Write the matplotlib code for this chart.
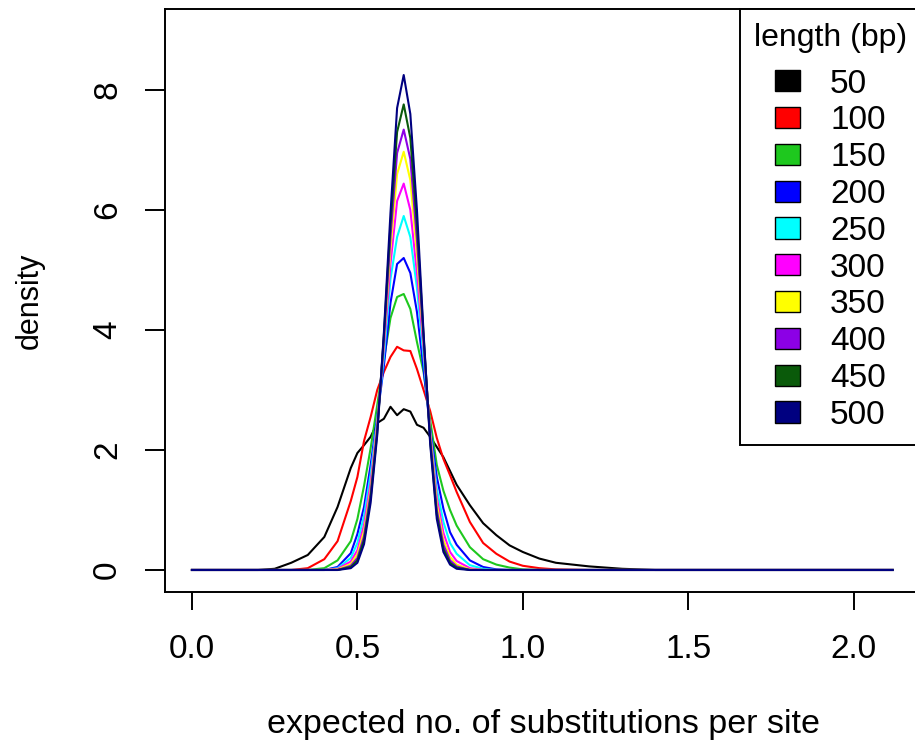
import matplotlib
matplotlib.use('Agg')
import matplotlib.pyplot as plt
from matplotlib.patches import Patch

plt.rcParams['font.family'] = ['Liberation Sans', 'DejaVu Sans']

# substitutions per site (shared grid for all curves)
x = [0.0, 0.2, 0.25, 0.3, 0.35, 0.4, 0.44, 0.48, 0.5, 0.52, 0.54, 0.56, 0.58, 0.6,
     0.62, 0.64, 0.66, 0.68, 0.7, 0.72, 0.74, 0.76, 0.78, 0.8, 0.84, 0.88, 0.92,
     0.96, 1.0, 1.05, 1.1, 1.2, 1.3, 1.4, 2.118]

lengths = [50, 100, 150, 200, 250, 300, 350, 400, 450, 500]
colors = ['black', '#FF0000', '#1EC81E', '#0000FF', '#00FFFF', '#FF00FF',
          '#FFFF00', '#8C00E6', '#0A5A0A', '#000080']

d50 = [0, 0, 0.02, 0.12, 0.25, 0.55, 1.05, 1.70, 1.95, 2.08, 2.22, 2.45, 2.52, 2.72,
       2.58, 2.68, 2.64, 2.42, 2.37, 2.22, 2.05, 1.88, 1.65, 1.42, 1.08, 0.78, 0.58,
       0.41, 0.30, 0.19, 0.12, 0.06, 0.02, 0, 0]
d100 = [0, 0, 0, 0, 0.03, 0.18, 0.48, 1.15, 1.55, 2.15, 2.55, 3.0, 3.3, 3.55,
        3.72, 3.66, 3.65, 3.35, 3.0, 2.65, 2.2, 1.85, 1.58, 1.3, 0.8, 0.45, 0.27,
        0.14, 0.07, 0.03, 0.01, 0, 0, 0, 0]
d150 = [0, 0, 0, 0, 0, 0.03, 0.16, 0.48, 0.85, 1.4, 2.03, 2.75, 3.5, 4.2,
        4.55, 4.6, 4.35, 3.8, 3.3, 2.5, 1.75, 1.32, 1.0, 0.74, 0.38, 0.18, 0.09,
        0.04, 0.01, 0, 0, 0, 0, 0, 0]
d200 = [0, 0, 0, 0, 0, 0, 0.05, 0.28, 0.6, 1.05, 1.75, 2.55, 3.4, 4.45,
        5.1, 5.2, 4.95, 4.3, 3.35, 2.35, 1.55, 1.02, 0.63, 0.42, 0.16, 0.05, 0.01,
        0, 0, 0, 0, 0, 0, 0, 0]
d250 = [0, 0, 0, 0, 0, 0, 0.03, 0.2, 0.45, 0.9, 1.6, 2.5, 3.55, 4.85,
        5.55, 5.9, 5.55, 4.7, 3.55, 2.3, 1.35, 0.8, 0.45, 0.27, 0.08, 0.02, 0,
        0, 0, 0, 0, 0, 0, 0, 0]
d300 = [0, 0, 0, 0, 0, 0, 0.02, 0.14, 0.33, 0.75, 1.45, 2.45, 3.7, 5.1,
        6.15, 6.44, 6.0, 4.95, 3.7, 2.3, 1.2, 0.62, 0.3, 0.15, 0.03, 0, 0,
        0, 0, 0, 0, 0, 0, 0, 0]
d350 = [0, 0, 0, 0, 0, 0, 0.01, 0.1, 0.26, 0.65, 1.35, 2.4, 3.8, 5.35,
        6.6, 6.97, 6.5, 5.25, 3.8, 2.25, 1.1, 0.5, 0.22, 0.09, 0.01, 0, 0,
        0, 0, 0, 0, 0, 0, 0, 0]
d400 = [0, 0, 0, 0, 0, 0, 0, 0.07, 0.2, 0.56, 1.28, 2.35, 3.85, 5.55,
        6.95, 7.34, 6.85, 5.5, 3.85, 2.2, 1.0, 0.42, 0.16, 0.06, 0, 0, 0,
        0, 0, 0, 0, 0, 0, 0, 0]
d450 = [0, 0, 0, 0, 0, 0, 0, 0.05, 0.16, 0.5, 1.2, 2.3, 3.9, 5.75,
        7.3, 7.76, 7.2, 5.75, 3.9, 2.15, 0.92, 0.35, 0.12, 0.04, 0, 0, 0,
        0, 0, 0, 0, 0, 0, 0, 0]
d500 = [0, 0, 0, 0, 0, 0, 0, 0.03, 0.12, 0.43, 1.12, 2.25, 3.95, 5.95,
        7.7, 8.25, 7.6, 6.0, 3.95, 2.1, 0.85, 0.3, 0.09, 0.02, 0, 0, 0,
        0, 0, 0, 0, 0, 0, 0, 0]
dens = [d50, d100, d150, d200, d250, d300, d350, d400, d450, d500]

fig = plt.figure(figsize=(9.15, 7.42), dpi=100)
ax = fig.add_axes([0.18066, 0.20216, 0.8259, 0.7853])

for d, c in zip(dens, colors):
    ax.plot(x, d, color=c, lw=1.5)

ax.set_xlim(-0.0806, 2.2035)
ax.set_ylim(-0.367, 9.345)
ax.set_xticks([0.0, 0.5, 1.0, 1.5, 2.0])
ax.set_xticklabels(['0.0', '0.5', '1.0', '1.5', '2.0'])
ax.set_yticks([0, 2, 4, 6, 8])
ax.set_yticklabels(['0', '2', '4', '6', '8'], rotation=90, va='center')
ax.tick_params(axis='x', length=13, width=1.4, pad=17, labelsize=24)
ax.tick_params(axis='y', length=14.4, width=1.4, pad=16, labelsize=24)
for s in ax.spines.values():
    s.set_linewidth(1.4)

ax.set_xlabel('expected no. of substitutions per site', fontsize=24.5, labelpad=32)
ax.set_ylabel('density', fontsize=22, labelpad=34)

handles = [Patch(facecolor=c, edgecolor='black', lw=1) for c in colors]
leg = ax.legend(handles, [str(n) for n in lengths], title='length (bp)',
                loc='upper right', bbox_to_anchor=(1, 1), fontsize=24,
                title_fontsize=23, frameon=True, fancybox=False,
                edgecolor='black', framealpha=1, borderpad=0.42,
                handlelength=0.75, handleheight=0.6, handletextpad=0.9,
                labelspacing=0.174, borderaxespad=0)
leg.get_frame().set_linewidth(1.4)
# extra gap between the title and the first entry
leg._legend_box.sep = 11

fig.savefig('out.png', dpi=100)
